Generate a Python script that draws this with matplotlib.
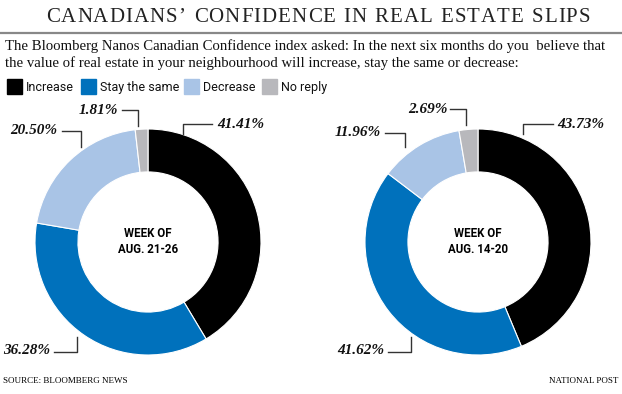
import matplotlib
matplotlib.use("Agg")
import matplotlib.pyplot as plt

categories = ["Increase", "Stay the same", "Decrease", "No reply"]
week1_label = "WEEK OF\nAUG. 21-26"
week1_values = [41.41, 36.28, 20.50, 1.81]
week2_label = "WEEK OF\nAUG. 14-20"
week2_values = [43.73, 41.62, 11.96, 2.69]
colors = ["#000000", "#0071bc", "#a9c4e6", "#b8b8bc"]

narrow = "Roboto"
serif = "Liberation Serif"

W, H = 622, 394
fig = plt.figure(figsize=(W / 100, H / 100), dpi=100)

def add_pie(cx, cy, r, values, label):
    ax = fig.add_axes([(cx - r) / W, 1 - (cy + r) / H, 2 * r / W, 2 * r / H])
    ax.pie(values, colors=colors, startangle=90, counterclock=False, radius=1,
           wedgeprops=dict(width=0.38, edgecolor="white", linewidth=0.8))
    ax.set_xlim(-1, 1)
    ax.set_ylim(-1, 1)
    ax.set_aspect("equal")
    ax.axis("off")
    ax.text(0, 0, label, ha="center", va="center", fontsize=8.3, fontweight="bold",
            family=narrow, linespacing=1.3)
    return ax

add_pie(148, 242, 113, week1_values, week1_label)
add_pie(478, 242, 113, week2_values, week2_label)

ov = fig.add_axes([0, 0, 1, 1], zorder=5)
ov.set_xlim(0, W)
ov.set_ylim(H, 0)
ov.axis("off")
ov.patch.set_alpha(0)

# title with letter spacing (each character placed as real text)
title = "CANADIANS\u2019 CONFIDENCE IN REAL ESTATE SLIPS"
renderer = fig.canvas.get_renderer()
x0, x1 = 46, 590
chars = []
widths = []
for ch in title:
    if ch == " ":
        chars.append(None)
        widths.append(6.0)
        continue
    t = ov.text(0, 17, ch, ha="left", va="center", fontsize=15, family=serif, color="#222222")
    widths.append(t.get_window_extent(renderer).width)
    chars.append(t)
gap = (x1 - x0 - sum(widths)) / (len(title) - 1)
x = x0
for t, w in zip(chars, widths):
    if t is not None:
        t.set_x(x)
    x += w + gap
ov.plot([0, W], [33, 33], color="#888888", lw=1.6, solid_capstyle="butt")

sub = ("The Bloomberg Nanos Canadian Confidence index asked: In the next six months do you  believe that\n"
       "the value of real estate in your neighbourhood will increase, stay the same or decrease:")
ov.text(5, 55, sub, ha="left", va="center", fontsize=10.6, family=serif, linespacing=1.3,
        color="#111111")

# legend
lx = [7, 81, 184, 262]
for x, c, t in zip(lx, colors, categories):
    ov.add_patch(plt.Rectangle((x, 79), 15, 15, color=c))
    ov.text(x + 19, 87, t, ha="left", va="center", fontsize=9, family=narrow, color="#111111")

# percentage labels with leader lines
def lab(txt, tx, ty, ha, pts):
    xs, ys = zip(*pts)
    ov.plot(xs, ys, color="#333333", lw=1)
    ov.text(tx, ty, txt, ha=ha, va="center", fontsize=11, family=serif,
            style="italic", fontweight="bold", color="#111111")

fmt = lambda v: f"{v:.2f}%"
lab(fmt(week1_values[0]), 217, 124, "left", [(212, 124), (183, 124), (183, 134)])
lab(fmt(week1_values[3]), 118, 110, "right", [(122, 110), (138, 110), (138, 126)])
lab(fmt(week1_values[2]), 57, 131, "right", [(62, 131), (81, 131), (81, 147)])
lab(fmt(week1_values[1]), 50, 351, "right", [(54, 352), (77, 352), (77, 337)])

lab(fmt(week2_values[0]), 557, 124, "left", [(553, 124), (523, 124), (523, 134)])
lab(fmt(week2_values[3]), 448, 109, "right", [(450, 109), (466, 109), (466, 125)])
lab(fmt(week2_values[2]), 381, 133, "right", [(385, 133), (405, 133), (405, 147)])
lab(fmt(week2_values[1]), 384, 351, "right", [(388, 352), (411, 352), (411, 337)])

ov.text(3, 381, "SOURCE: BLOOMBERG NEWS", ha="left", va="center", fontsize=6.5, family=serif)
ov.text(618, 381, "NATIONAL POST", ha="right", va="center", fontsize=6.5, family=serif)

fig.savefig("out.png", dpi=100)
